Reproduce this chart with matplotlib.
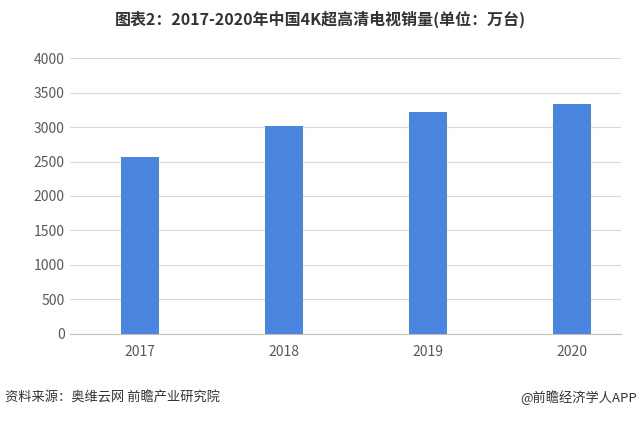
import matplotlib
matplotlib.use("Agg")
import matplotlib.pyplot as plt

plt.rcParams["font.family"] = "Noto Sans CJK SC"

years = ["2017", "2018", "2019", "2020"]
sales = [2560, 3020, 3220, 3330]
yticks = [0, 500, 1000, 1500, 2000, 2500, 3000, 3500, 4000]

fig = plt.figure(figsize=(6.4, 4.21), dpi=100)
ax = fig.add_axes([0.109, 0.207, 0.861, 0.655])
x = list(range(len(years)))
ax.bar(x, sales, width=0.265, color="#4a86e0", zorder=3)
ax.set_xlim(-0.49, 3.34)
ax.set_ylim(0, 4000)
ax.set_yticks(yticks)
ax.set_xticks(x)
ax.set_xticklabels(years)
ax.grid(axis="y", color="#d9d9d9", linewidth=0.8, zorder=0)
for s in ["top", "right", "left"]:
    ax.spines[s].set_visible(False)
ax.spines["bottom"].set_color("#bfbfbf")
ax.tick_params(axis="both", length=0, labelsize=10, colors="#595959")
ax.tick_params(axis="x", pad=8)

fig.text(0.5, 0.955, "图表2：2017-2020年中国4K超高清电视销量(单位：万台)",
         ha="center", va="center", fontsize=11.5, fontweight="bold", color="#333333")
fig.text(0.008, 0.055, "资料来源：奥维云网 前瞻产业研究院", ha="left", va="center",
         fontsize=9.5, color="#333333")
fig.text(0.995, 0.055, "@前瞻经济学人APP", ha="right", va="center",
         fontsize=9.5, color="#333333")
fig.savefig("out.png", dpi=100)
